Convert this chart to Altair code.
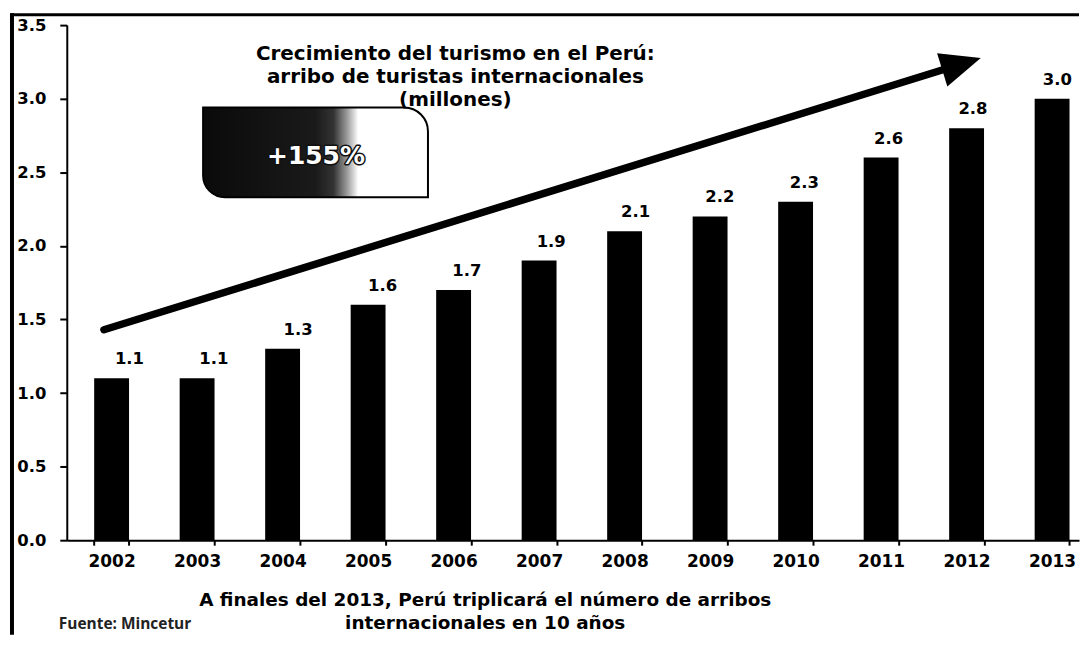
import altair as alt
import pandas as pd

# ---- data ----
years = ["2002", "2003", "2004", "2005", "2006", "2007", "2008", "2009", "2010", "2011", "2012", "2013"]
arrivals = [1.1, 1.1, 1.3, 1.6, 1.7, 1.9, 2.1, 2.2, 2.3, 2.6, 2.8, 3.0]
value_labels = ["1.1", "1.1", "1.3", "1.6", "1.7", "1.9", "2.1", "2.2", "2.3", "2.6", "2.8", "3.0"]
y_ticks = [0.0, 0.5, 1.0, 1.5, 2.0, 2.5, 3.0, 3.5]

title_lines = ["Crecimiento del turismo en el Perú:", "arribo de turistas internacionales", "(millones)"]
footer_lines = ["A finales del 2013, Perú triplicará el número de arribos", "internacionales  en 10 años"]
source_text = "Fuente: Mincetur"
badge_text = "+155%"

# annotation positions in (year-position, value) coordinates
arrow_pos = [2001.91, 2011.94]
arrow_val = [1.43, 3.236]
head_pos = [2011.94]
head_val = [3.236]
badge_pos = [2003.07, 2005.70]
badge_val = [2.33, 2.94]
badge_text_pos = [2004.39]
badge_text_val = [2.613]

FONT = "DejaVu Sans"
W, H = 1016, 517

df = pd.DataFrame({"year": years, "value": arrivals, "label": value_labels})
arrow_df = pd.DataFrame({"pos": arrow_pos, "value": arrow_val})
head_df = pd.DataFrame({"pos": head_pos, "value": head_val})
badge_df = pd.DataFrame({"pos": [badge_pos[0]], "pos2": [badge_pos[1]],
                         "value": [badge_val[0]], "value2": [badge_val[1]]})
badge_txt_df = pd.DataFrame({"pos": badge_text_pos, "value": badge_text_val, "t": [badge_text]})
one = pd.DataFrame({"k": [0]})

band_scale = alt.Scale(paddingInner=0.5922, paddingOuter=0.2156, align=0.743)
y_scale = alt.Scale(domain=[0, 3.5], nice=False, zero=True)
q_scale = alt.Scale(domain=[2001.4756, 2013.3144], nice=False, zero=False)

x_axis = alt.Axis(title=None, labelAngle=0, labelFont=FONT, labelFontWeight="bold",
                  labelFontSize=17, labelColor="black", labelPadding=8,
                  domainColor="black", domainWidth=2, tickColor="black", tickWidth=2,
                  tickSize=5, tickBand="extent", grid=False)
y_axis = alt.Axis(title=None, values=y_ticks, format=".1f", labelFont=FONT,
                  labelFontWeight="bold", labelFontSize=16.5, labelColor="black",
                  labelPadding=14, domainColor="black", domainWidth=2,
                  tickColor="black", tickWidth=2, tickSize=7, grid=False)

bars = alt.Chart(df).mark_bar(color="black").encode(
    x=alt.X("year:N", sort=None, scale=band_scale, axis=x_axis),
    y=alt.Y("value:Q", scale=y_scale, axis=y_axis, title=None),
)

labels = alt.Chart(df).mark_text(font=FONT, fontWeight="bold", fontSize=16.5, color="black",
                                 baseline="alphabetic", dy=-14).encode(
    x=alt.X("year:N", sort=None, scale=band_scale, axis=None),
    y=alt.Y("value:Q", scale=y_scale, title=None),
    text="label:N",
)

arrow_line = alt.Chart(arrow_df).mark_line(color="black", strokeWidth=7.5, strokeCap="round").encode(
    x=alt.X("pos:Q", scale=q_scale, axis=None),
    y=alt.Y("value:Q", scale=y_scale, title=None),
)

arrow_head = alt.Chart(head_df).mark_point(shape="M0,-1L0.86,1L-0.86,1Z", size=1640, filled=True,
                                           color="black", opacity=1, angle=72.8).encode(
    x=alt.X("pos:Q", scale=q_scale, axis=None),
    y=alt.Y("value:Q", scale=y_scale, title=None),
)

badge_fill = alt.LinearGradient(
    gradient="linear", x1=0, x2=1, y1=0, y2=0,
    stops=[alt.GradientStop(offset=0, color="#0a0a0a"),
           alt.GradientStop(offset=0.5, color="#1a1a1a"),
           alt.GradientStop(offset=0.58, color="#333333"),
           alt.GradientStop(offset=0.64, color="#9a9a9a"),
           alt.GradientStop(offset=0.69, color="#ffffff"),
           alt.GradientStop(offset=1, color="#ffffff")])

badge = alt.Chart(badge_df).mark_rect(fill=badge_fill, stroke="black", strokeWidth=2,
                                      cornerRadiusTopRight=24, cornerRadiusBottomLeft=22).encode(
    x=alt.X("pos:Q", scale=q_scale, axis=None),
    x2="pos2:Q",
    y=alt.Y("value:Q", scale=y_scale, title=None),
    y2="value2:Q",
)

badge_halo = alt.Chart(badge_txt_df).mark_text(font=FONT, fontWeight="bold", fontSize=25,
                                               fill="#111111", stroke="#111111", strokeWidth=3,
                                               strokeJoin="round",
                                               baseline="middle", align="center").encode(
    x=alt.X("pos:Q", scale=q_scale, axis=None),
    y=alt.Y("value:Q", scale=y_scale, title=None),
    text="t:N",
)

badge_label = alt.Chart(badge_txt_df).mark_text(font=FONT, fontWeight="bold", fontSize=25,
                                                fill="white", baseline="middle", align="center").encode(
    x=alt.X("pos:Q", scale=q_scale, axis=None),
    y=alt.Y("value:Q", scale=y_scale, title=None),
    text="t:N",
)

title_mark = alt.Chart(one).mark_text(font=FONT, fontWeight="bold", fontSize=20, color="black",
                                      align="center", baseline="alphabetic", lineHeight=23).encode(
    x=alt.value(390), y=alt.value(35), text=alt.value(title_lines))

footer_mark = alt.Chart(one).mark_text(font=FONT, fontWeight="bold", fontSize=18.5, color="black",
                                       align="center", baseline="alphabetic", lineHeight=23).encode(
    x=alt.value(420), y=alt.value(583), text=alt.value(footer_lines))

source_mark = alt.Chart(one).mark_text(font="Open Sans", fontWeight="bold", fontSize=15.5,
                                       color="#222222", align="left", baseline="alphabetic").encode(
    x=alt.value(-8), y=alt.value(606), text=alt.value(source_text))

left_border = alt.Chart(one).mark_rule(color="black", strokeWidth=4).encode(
    x=alt.value(-55), y=alt.value(-12), y2=alt.value(612))
top_border = alt.Chart(one).mark_rule(color="black", strokeWidth=3).encode(
    x=alt.value(-57), x2=alt.value(W), y=alt.value(-10.5))

chart = alt.layer(
    bars, labels, arrow_line, arrow_head, badge, badge_halo, badge_label,
    title_mark, footer_mark, source_mark, left_border, top_border,
).resolve_scale(x="independent").properties(
    width=W, height=H, padding={"left": 0, "top": 2, "right": 0, "bottom": 0},
    background="white",
).configure_view(stroke=None)

chart.save("out.html", embed_options={"renderer": "svg", "actions": False})
